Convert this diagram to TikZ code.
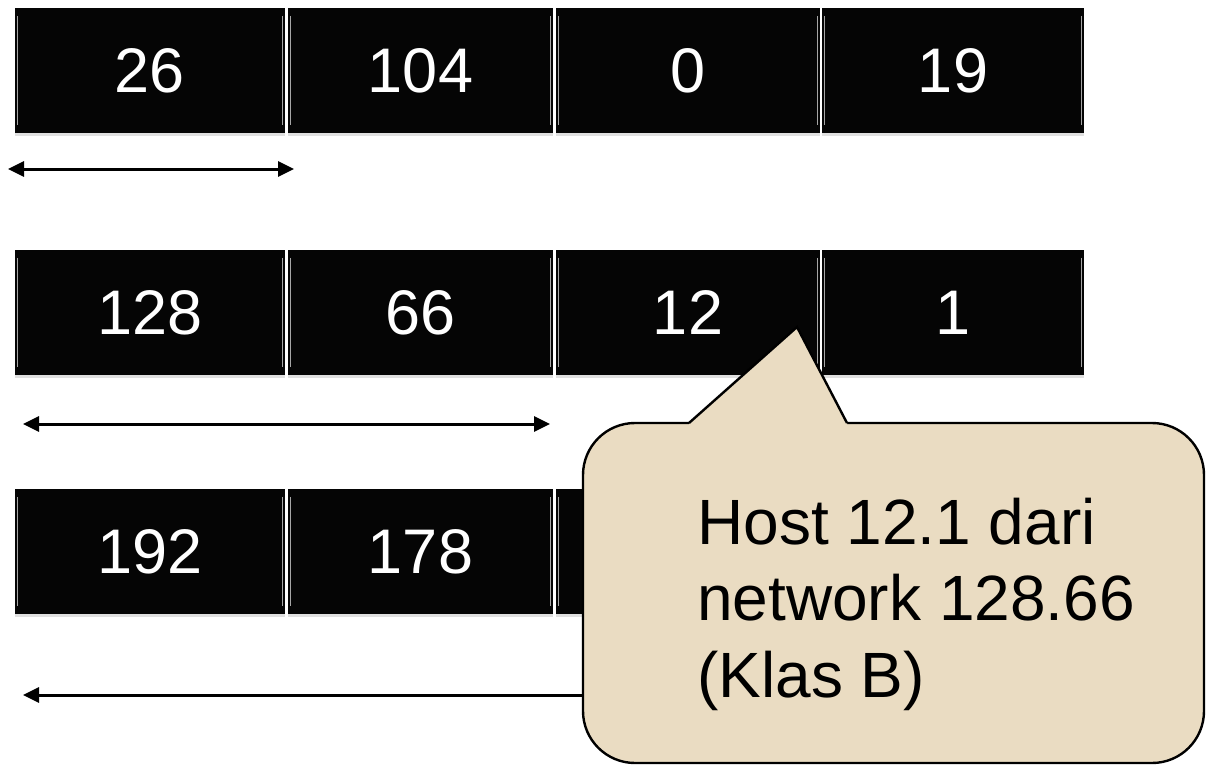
\documentclass[tikz,border=0pt]{standalone}
\usepackage{fontspec}
\setmainfont{Liberation Sans}
\usetikzlibrary{arrows.meta,shadows}
\definecolor{cellblack}{RGB}{5,5,5}
\definecolor{calloutfill}{RGB}{234,220,194}
\tikzset{
  cell/.style={fill=cellblack, inner sep=0pt, minimum height=125pt, text=white,
    font=\fontsize{63}{75}\selectfont,
    drop shadow={shadow xshift=0pt, shadow yshift=-3pt, opacity=0.12, fill=black}},
  bevel/.style={draw=gray!70, line width=1pt},
  span/.style={line width=3pt, {Triangle[length=16pt,width=15pt]}-{Triangle[length=16pt,width=15pt]}},
  spanleft/.style={line width=3pt, {Triangle[length=16pt,width=15pt]}-},
  callout/.style={fill=calloutfill, draw=black, line width=2.4pt},
  callouttext/.style={font=\fontsize{64}{76.5}\selectfont, align=left, inner sep=0pt, text=black}
}
\begin{document}
\begin{tikzpicture}[x=1pt,y=-1pt]
\useasboundingbox (0,0) rectangle (1206,765);
% cells
\foreach \r/\yc/\a/\b/\c/\d in {1/70.5/26/104/0/19, 2/312.5/128/66/12/1, 3/551.5/192/178//}{
  \node[cell, minimum width=270pt] (r\r c1) at (150,\yc) {\a};
  \node[cell, minimum width=265pt] (r\r c2) at (420.5,\yc) {\b};
  \node[cell, minimum width=264pt] (r\r c3) at (688,\yc) {\c};
  \node[cell, minimum width=262pt] (r\r c4) at (953,\yc) {\d};
  \foreach \k in {1,2,3,4}{
    \draw[bevel] ([xshift=3pt,yshift=-8pt]r\r c\k.north west) -- ([xshift=3pt,yshift=8pt]r\r c\k.south west);
    \draw[bevel] ([xshift=-3pt,yshift=-8pt]r\r c\k.north east) -- ([xshift=-3pt,yshift=8pt]r\r c\k.south east);
  }
}
% span arrows
\coordinate (a1l) at (8,169);
\coordinate (a1r) at (294,169);
\coordinate (a2l) at (23,424);
\coordinate (a2r) at (550,424);
\coordinate (a3l) at (23,695);
\coordinate (a3r) at (1000,695);
\draw[span] (a1l) -- (a1r);
\draw[span] (a2l) -- (a2r);
\draw[spanleft] (a3l) -- (a3r);
% callout
\coordinate (tip) at (797,327);
\coordinate (bl) at (689,423);
\coordinate (br) at (847,423);
\draw[callout, rounded corners=52pt] (583,423) rectangle (1204,763);
\fill[calloutfill] (bl) -- (tip) -- (br) -- ([yshift=-3pt]br) -- ([yshift=-3pt]bl) -- cycle;
\draw[callout, fill=none, line join=miter] (bl) -- (tip) -- (br);
\node[callouttext, anchor=west] (note) at (697,604) {Host 12.1 dari\\network 128.66\\(Klas B)};
\end{tikzpicture}
\end{document}
